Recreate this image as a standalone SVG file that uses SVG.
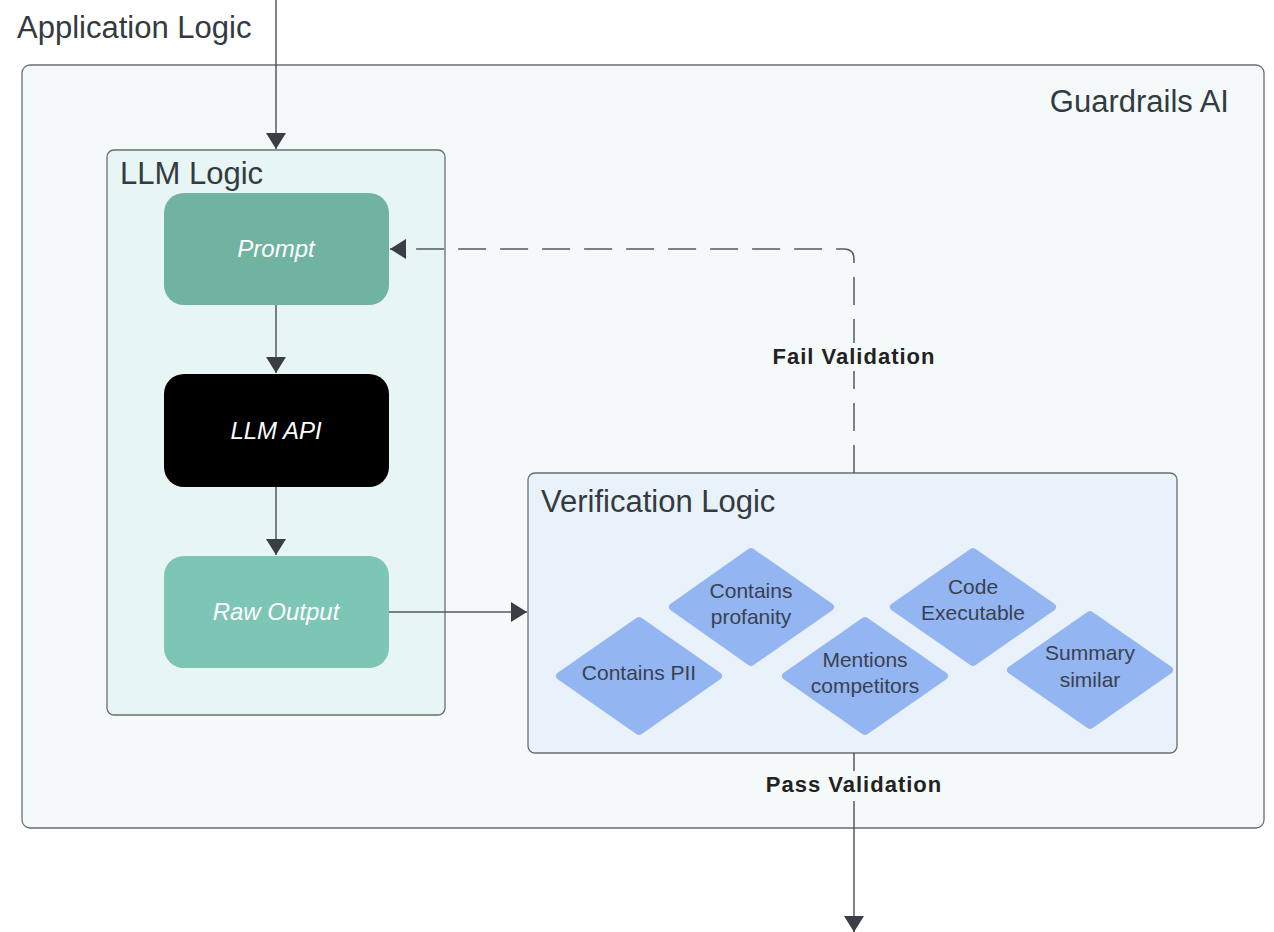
<svg xmlns="http://www.w3.org/2000/svg" width="1274" height="932" viewBox="0 0 1274 932">
<defs>
<marker id="ah" viewBox="0 0 16 20" refX="16" refY="10" markerWidth="16" markerHeight="20" markerUnits="userSpaceOnUse" orient="auto">
<path d="M0,0 L16,10 L0,20 Z" fill="#3b3f45"/>
</marker>
<style>
.title{font-family:"Liberation Sans",Arial,sans-serif;font-size:31px;fill:#333a40}
.box{font-family:"Liberation Sans",Arial,sans-serif;font-size:24px;font-style:italic;fill:#ffffff;text-anchor:middle}
.dia{font-family:"Liberation Sans",Arial,sans-serif;font-size:21px;fill:#3a4150;text-anchor:middle}
.lbl{font-family:"Liberation Sans",Arial,sans-serif;font-size:22px;font-weight:bold;fill:#222;text-anchor:middle;letter-spacing:1px}
.cont{stroke:#6a6e72;stroke-width:1.3}
.edge{stroke:#55595e;stroke-width:1.5;fill:none}
.diamond{fill:#93b5f1;stroke:#93b5f1;stroke-width:8;stroke-linejoin:round}
</style>
</defs>
<rect x="0" y="0" width="1274" height="932" fill="#ffffff"/>
<text class="title" x="17" y="38">Application Logic</text>
<g id="guardrails">
<rect class="cont" x="22" y="65" width="1242" height="763" rx="8" fill="#f4fafa"/>
<text class="title" x="1229" y="112" text-anchor="end">Guardrails AI</text>
</g>
<g id="llm-logic">
<rect class="cont" x="107" y="150" width="338" height="565" rx="7" fill="#e7f5f4"/>
<text class="title" x="120" y="184">LLM Logic</text>
</g>
<g id="prompt">
<rect x="164" y="193" width="225" height="112" rx="20" fill="#6fb3a0"/>
<text class="box" x="276" y="257">Prompt</text>
</g>
<g id="llm-api">
<rect x="164" y="374" width="225" height="113" rx="20" fill="#000000"/>
<text class="box" x="276" y="439">LLM API</text>
</g>
<g id="raw-output">
<rect x="164" y="556" width="225" height="112" rx="20" fill="#7dc5b4"/>
<text class="box" x="276" y="620">Raw Output</text>
</g>
<g id="verification">
<rect class="cont" x="528" y="473" width="649" height="280" rx="7" fill="#e9f1fb"/>
<text class="title" x="541" y="512">Verification Logic</text>
</g>
<g id="contains-pii">
<polygon class="diamond" points="639,621 718,676 639,731 560,676"/>
<text class="dia" x="639" y="680">Contains PII</text>
</g>
<g id="contains-profanity">
<polygon class="diamond" points="751,552 830,607 751,662 673,607"/>
<text class="dia" x="751" y="598">Contains</text>
<text class="dia" x="751" y="624">profanity</text>
</g>
<g id="mentions-competitors">
<polygon class="diamond" points="865,621 944,676 865,731 786,676"/>
<text class="dia" x="865" y="667">Mentions</text>
<text class="dia" x="865" y="693">competitors</text>
</g>
<g id="code-executable">
<polygon class="diamond" points="973,552 1052,607 973,662 894,607"/>
<text class="dia" x="973" y="594">Code</text>
<text class="dia" x="973" y="620">Executable</text>
</g>
<g id="summary-similar">
<polygon class="diamond" points="1090,615 1169,670 1090,725 1011,670"/>
<text class="dia" x="1090" y="660">Summary</text>
<text class="dia" x="1090" y="687">similar</text>
</g>
<g id="connectors">
<line class="edge" x1="276" y1="0" x2="276" y2="149" marker-end="url(#ah)"/>
<line class="edge" x1="276" y1="305" x2="276" y2="373" marker-end="url(#ah)"/>
<line class="edge" x1="276" y1="487" x2="276" y2="555" marker-end="url(#ah)"/>
<line class="edge" x1="389" y1="612" x2="527" y2="612" marker-end="url(#ah)"/>
<path class="edge" d="M854,473 L854,259 Q854,249 844,249 L390,249" stroke-dasharray="28 14" marker-end="url(#ah)"/>
<rect x="764" y="343" width="180" height="28" fill="#f4fafa"/>
<text class="lbl" x="854" y="364">Fail Validation</text>
<line class="edge" x1="854" y1="753" x2="854" y2="932" marker-end="url(#ah)"/>
<rect x="756" y="771" width="196" height="30" fill="#f4fafa"/>
<text class="lbl" x="854" y="792">Pass Validation</text>
</g>
</svg>
